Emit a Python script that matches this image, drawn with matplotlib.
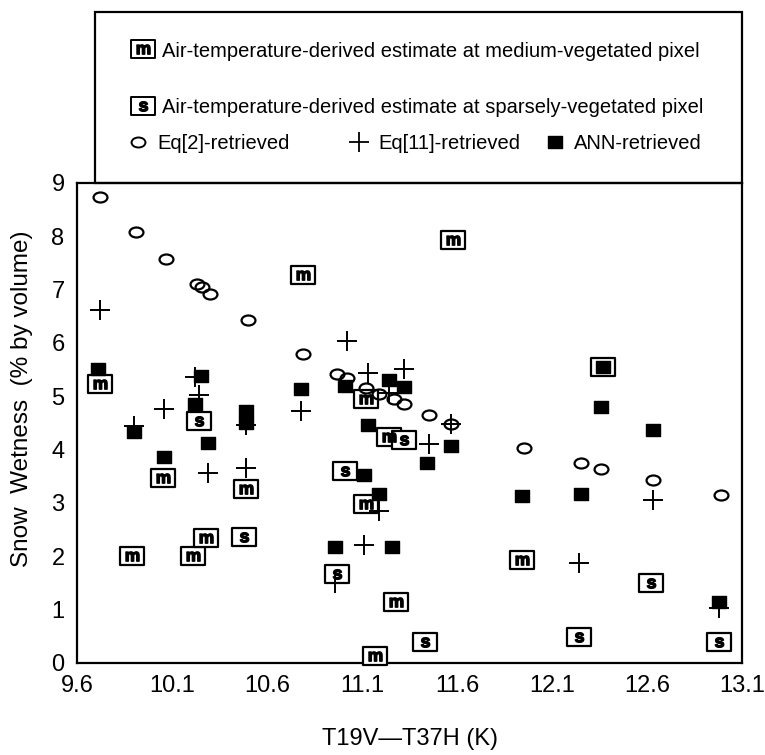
import numpy as np
import matplotlib
matplotlib.use('Agg')
import matplotlib.pyplot as plt
from matplotlib.lines import Line2D
from matplotlib.path import Path
from matplotlib.patches import Rectangle

plt.rcParams['font.family'] = ['Liberation Sans', 'DejaVu Sans']
plt.rcParams['mathtext.fontset'] = 'custom'
plt.rcParams['mathtext.bf'] = 'Liberation Sans:bold'

# Eq[2]-retrieved
eq2_x = [9.72, 9.91, 10.07, 10.23, 10.26, 10.30, 10.50, 10.79, 10.97, 11.02, 11.12,
         11.19, 11.27, 11.32, 11.45, 11.57, 11.95, 12.25, 12.36, 12.63, 12.99]
eq2_y = [8.74, 8.08, 7.57, 7.11, 7.05, 6.92, 6.43, 5.79, 5.42, 5.34, 5.16,
         5.04, 4.95, 4.85, 4.65, 4.47, 4.02, 3.74, 3.63, 3.42, 3.15]

# Eq[11]-retrieved
eq11_x = [9.72, 9.90, 10.06, 10.22, 10.24, 10.29, 10.49, 10.49, 10.78, 10.96, 11.02,
          11.11, 11.13, 11.19, 11.24, 11.32, 11.45, 11.57, 12.24, 12.63, 12.98]
eq11_y = [6.61, 4.44, 4.76, 5.35, 5.03, 3.55, 4.46, 3.65, 4.73, 1.49, 6.03,
          2.21, 5.43, 2.85, 5.05, 5.51, 4.10, 4.47, 1.88, 3.05, 1.02]

# ANN-retrieved
ann_x = [9.71, 9.90, 10.06, 10.22, 10.25, 10.29, 10.49, 10.49, 10.78, 10.96, 11.01,
         11.11, 11.13, 11.19, 11.24, 11.26, 11.32, 11.44, 11.57, 11.94, 12.25,
         12.36, 12.37, 12.63, 12.98]
ann_y = [5.51, 4.33, 3.85, 4.85, 5.38, 4.13, 4.72, 4.49, 5.13, 2.17, 5.19,
         3.52, 4.46, 3.16, 5.31, 2.17, 5.17, 3.74, 4.06, 3.12, 3.17,
         4.80, 5.55, 4.37, 1.14]

# air-temperature-derived, medium-vegetated pixel
med_x = [9.72, 9.89, 10.05, 10.21, 10.28, 10.49, 10.79, 11.12, 11.12, 11.17,
         11.24, 11.28, 11.58, 11.94]
med_y = [5.23, 2.00, 3.46, 2.01, 2.34, 3.25, 7.27, 4.94, 2.97, 0.12,
         4.23, 1.14, 7.93, 1.93]

# air-temperature-derived, sparsely-vegetated pixel
spa_x = [10.24, 10.48, 10.97, 11.01, 11.32, 11.43, 12.24, 12.37, 12.62, 12.98]
spa_y = [4.54, 2.36, 1.67, 3.60, 4.17, 0.40, 0.48, 5.55, 1.49, 0.40]

xticks = [9.6, 10.1, 10.6, 11.1, 11.6, 12.1, 12.6, 13.1]
yticks = [0, 1, 2, 3, 4, 5, 6, 7, 8, 9]

box = Path([(-1, -0.8), (1, -0.8), (1, 0.8), (-1, 0.8), (-1, -0.8)], closed=True)
sq = Path([(-1, -0.85), (1, -0.85), (1, 0.85), (-1, 0.85), (-1, -0.85)], closed=True)
uc = Path.unit_circle()
oval = Path(uc.vertices * [1, 0.72], uc.codes)

fig = plt.figure(figsize=(7.65, 7.55), dpi=100)
ax = fig.add_axes([0.1007, 0.122, 0.8693, 0.636])

box_kw = dict(ls='none', marker=box, ms=17, mfc='white', mec='black', mew=1.6, clip_on=False)
ax.plot(med_x, med_y, zorder=3, **box_kw)
ax.plot(med_x, med_y, ls='none', marker='$\\mathbf{m}$', ms=9.5, color='black', zorder=4, clip_on=False)
ax.plot(spa_x, spa_y, zorder=3, **box_kw)
ax.plot(spa_x, spa_y, ls='none', marker='$\\mathbf{s}$', ms=7, color='black', zorder=4, clip_on=False)
ax.plot(ann_x, ann_y, ls='none', marker=sq, ms=10, color='black', zorder=5)
ax.plot(eq2_x, eq2_y, ls='none', marker=oval, ms=10, mfc='none', mec='black', mew=1.6, zorder=6)
ax.plot(eq11_x, eq11_y, ls='none', marker='+', ms=15, mec='black', mew=1.4, zorder=6)

ax.set_xlim(9.6, 13.1)
ax.set_ylim(0, 9)
ax.set_xticks(xticks)
ax.set_xticklabels([str(t) for t in xticks])
ax.set_yticks(yticks)
ax.tick_params(length=0, labelsize=17, pad=9)
for s in ax.spines.values():
    s.set_linewidth(1.6)
ax.set_xlabel('T19V\u2014T37H (K)', fontsize=17, labelpad=22)
ax.set_ylabel('Snow  Wetness  (% by volume)', fontsize=17.5)
ax.yaxis.set_label_coords(-0.066, 0.551)

# legend frame on top of the plot
fig.add_artist(Rectangle((95 / 765, 0.758), 647 / 765, 0.984 - 0.758, transform=fig.transFigure,
                         fill=False, ec='black', lw=1.6))

leg_kw = dict(loc='upper left', frameon=False, fontsize=14.5, handlelength=1.0,
              handletextpad=0.45, borderpad=0, borderaxespad=0)

h_med = (Line2D([], [], ls='none', marker=box, ms=17, mfc='white', mec='black', mew=1.4),
         Line2D([], [], ls='none', marker='$\\mathbf{m}$', ms=9.5, color='black'))
h_spa = (Line2D([], [], ls='none', marker=box, ms=17, mfc='white', mec='black', mew=1.4),
         Line2D([], [], ls='none', marker='$\\mathbf{s}$', ms=7, color='black'))
fig.legend([h_med, h_spa],
           ['Air-temperature-derived estimate at medium-vegetated pixel',
            'Air-temperature-derived estimate at sparsely-vegetated pixel'],
           bbox_to_anchor=(0.174, 0.945), labelspacing=1.85, **leg_kw)

h_eq2 = Line2D([], [], ls='none', marker=oval, ms=10, mfc='none', mec='black', mew=1.4)
h_eq11 = Line2D([], [], ls='none', marker='+', ms=15, mec='black', mew=1.3)
h_ann = Line2D([], [], ls='none', marker=sq, ms=10, color='black')
fig.legend([h_eq2], ['Eq[2]-retrieved'], bbox_to_anchor=(0.167, 0.822), **leg_kw)
fig.legend([h_eq11], ['Eq[11]-retrieved'], bbox_to_anchor=(0.456, 0.822), **leg_kw)
fig.legend([h_ann], ['ANN-retrieved'], bbox_to_anchor=(0.712, 0.822), **leg_kw)

fig.savefig('out.png', dpi=100)
